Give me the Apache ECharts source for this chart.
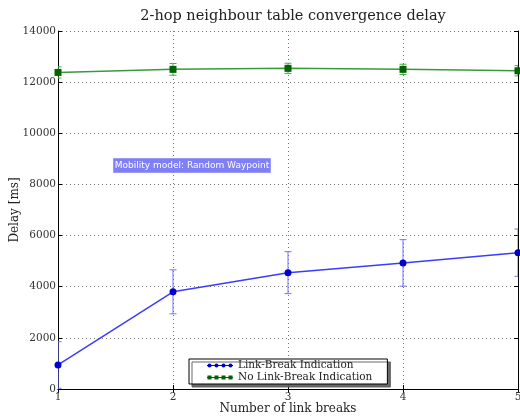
<!DOCTYPE html>
<html>
<head>
<meta charset="utf-8">
<script src="https://cdn.jsdelivr.net/npm/echarts@6/dist/echarts.min.js"></script>
<style>html,body{margin:0;padding:0;background:#fff}#c{width:520px;height:418px}</style>
</head>
<body>
<div id="c"></div>
<script>
var linkBreaks = [1, 2, 3, 4, 5];
var lbiMean = [940, 3800, 4550, 4930, 5330];
var lbiErr = [910, 860, 820, 910, 925];
var noLbiMean = [12380, 12500, 12540, 12500, 12445];
var noLbiErr = [220, 230, 200, 200, 200];
var yTicks = {min: 0, max: 14000, interval: 2000};
var xTicks = {min: 1, max: 5, interval: 1};

var serif = 'DejaVu Serif';

function pairs(xs, ys) { return xs.map(function (x, i) { return [x, ys[i]]; }); }
function errData(xs, m, e) { return xs.map(function (x, i) { return [x, m[i] - e[i], m[i] + e[i]]; }); }

function errRender(color) {
  return function (params, api) {
    var x = api.value(0);
    var lo = api.coord([x, api.value(1)]);
    var hi = api.coord([x, api.value(2)]);
    var w = 3.5;
    var st = {stroke: color, lineWidth: 1};
    return {
      type: 'group',
      children: [
        {type: 'line', shape: {x1: lo[0], y1: lo[1], x2: hi[0], y2: hi[1]}, style: st},
        {type: 'line', shape: {x1: hi[0] - w, y1: hi[1], x2: hi[0] + w, y2: hi[1]}, style: st},
        {type: 'line', shape: {x1: lo[0] - w, y1: lo[1], x2: lo[0] + w, y2: lo[1]}, style: st}
      ]
    };
  };
}

var circIcon = 'path://M0,2h26v1h-26z' +
  'M0.5,2.5a2,2 0 1,1 4,0a2,2 0 1,1 -4,0z' +
  'M7.5,2.5a2,2 0 1,1 4,0a2,2 0 1,1 -4,0z' +
  'M14.5,2.5a2,2 0 1,1 4,0a2,2 0 1,1 -4,0z' +
  'M21.5,2.5a2,2 0 1,1 4,0a2,2 0 1,1 -4,0z';
var sqIcon = 'path://M0,2h26v1h-26z' +
  'M0.5,0.5h4v4h-4z' +
  'M7.5,0.5h4v4h-4z' +
  'M14.5,0.5h4v4h-4z' +
  'M21.5,0.5h4v4h-4z';

var axisCommon = {
  type: 'value',
  axisLine: {show: true, lineStyle: {color: '#000', width: 1}},
  axisTick: {show: true, inside: true, length: 4, lineStyle: {color: '#000'}},
  splitLine: {show: false}
};
var plain = function (v) { return String(v); };

var chart = echarts.init(document.getElementById('c'), null, {renderer: 'canvas'});
chart.setOption({
  animation: false,
  backgroundColor: '#fff',
  title: {
    text: '2-hop neighbour table convergence delay',
    left: 288, top: 4, textAlign: 'center',
    textStyle: {fontFamily: serif, fontSize: 14.5, fontWeight: 'normal', color: '#222'}
  },
  grid: {left: 58, right: 2, top: 31, bottom: 29, show: false, containLabel: false, outerBoundsMode: 'none'},
  xAxis: [
    Object.assign({}, axisCommon, {
      position: 'bottom', min: xTicks.min, max: xTicks.max, interval: xTicks.interval,
      name: 'Number of link breaks', nameLocation: 'middle', nameGap: 14, nameMoveOverlap: false,
      nameTextStyle: {fontFamily: serif, fontSize: 12, color: '#222'},
      axisLabel: {fontFamily: serif, fontSize: 10.5, color: '#333', margin: 3, formatter: plain},
      splitLine: {show: true, lineStyle: {color: '#777', type: [1, 3], width: 1}}
    }),
    Object.assign({}, axisCommon, {
      position: 'top', min: xTicks.min, max: xTicks.max, interval: xTicks.interval,
      axisLabel: {show: false}
    })
  ],
  yAxis: [
    Object.assign({}, axisCommon, {
      position: 'left', min: yTicks.min, max: yTicks.max, interval: yTicks.interval,
      name: 'Delay [ms]', nameLocation: 'middle', nameGap: 37, nameMoveOverlap: false,
      nameTextStyle: {fontFamily: serif, fontSize: 12, color: '#222'},
      axisLabel: {fontFamily: serif, fontSize: 10.5, color: '#333', margin: 2, formatter: plain},
      splitLine: {show: true, lineStyle: {color: '#777', type: [1, 3], width: 1}}
    }),
    Object.assign({}, axisCommon, {
      position: 'right', min: yTicks.min, max: yTicks.max, interval: yTicks.interval,
      axisLabel: {show: false}
    })
  ],
  legend: {
    orient: 'vertical', left: 189, top: 359,
    itemWidth: 26, itemHeight: 5, itemGap: 1,
    padding: [1, 15, 1, 18],
    backgroundColor: '#fff', borderColor: '#000', borderWidth: 1,
    shadowColor: 'rgba(90,90,90,0.9)', shadowOffsetX: 3, shadowOffsetY: 3, shadowBlur: 0,
    textStyle: {fontFamily: serif, fontSize: 10.5, color: '#222', padding: [0, 0, 0, 0]},
    data: [
      {name: 'Link-Break Indication', icon: circIcon},
      {name: 'No Link-Break Indication', icon: sqIcon}
    ]
  },
  graphic: [{
    type: 'group', left: 113, top: 158,
    children: [
      {type: 'rect', shape: {x: 0, y: 0, width: 157, height: 14},
       style: {fill: '#7f7ff7', stroke: '#9a9af5', lineWidth: 1}},
      {type: 'text', x: 78.5, y: 7,
       style: {text: 'Mobility model: Random Waypoint', fill: '#fff', font: '9px "DejaVu Sans"',
               textAlign: 'center', textVerticalAlign: 'middle'}}
    ]
  }],
  series: [
    {
      name: 'lbiErr', type: 'custom', clip: true, z: 3,
      renderItem: errRender('#7070ff'),
      encode: {x: 0, y: [1, 2]},
      data: errData(linkBreaks, lbiMean, lbiErr)
    },
    {
      name: 'noLbiErr', type: 'custom', clip: true, z: 3,
      renderItem: errRender('#4caa4c'),
      encode: {x: 0, y: [1, 2]},
      data: errData(linkBreaks, noLbiMean, noLbiErr)
    },
    {
      name: 'Link-Break Indication', type: 'line', clip: true, z: 4,
      symbol: 'circle', symbolSize: 7,
      lineStyle: {color: '#3c3cff', width: 1.5},
      itemStyle: {color: '#0000cc'},
      data: pairs(linkBreaks, lbiMean)
    },
    {
      name: 'No Link-Break Indication', type: 'line', clip: true, z: 4,
      symbol: 'rect', symbolSize: 7,
      lineStyle: {color: '#3a9a3a', width: 1.5},
      itemStyle: {color: '#006400'},
      data: pairs(linkBreaks, noLbiMean)
    }
  ]
});
</script>
</body>
</html>
